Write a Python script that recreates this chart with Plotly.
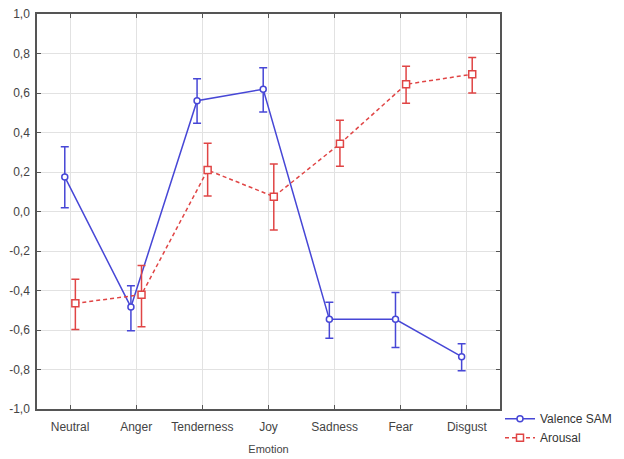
import plotly.graph_objects as go

emotions = ["Neutral", "Anger", "Tenderness", "Joy", "Sadness", "Fear", "Disgust"]

valence = [0.175, -0.484, 0.561, 0.619, -0.546, -0.546, -0.735]
valence_hi = [0.328, -0.376, 0.672, 0.728, -0.460, -0.410, -0.670]
valence_lo = [0.019, -0.604, 0.447, 0.504, -0.642, -0.688, -0.806]

arousal = [-0.465, -0.421, 0.210, 0.075, 0.343, 0.644, 0.695]
arousal_hi = [-0.343, -0.274, 0.345, 0.240, 0.462, 0.735, 0.780]
arousal_lo = [-0.598, -0.583, 0.078, -0.094, 0.229, 0.548, 0.600]

y_ticks = [-1.0, -0.8, -0.6, -0.4, -0.2, 0.0, 0.2, 0.4, 0.6, 0.8, 1.0]
y_tick_text = ["-1,0", "-0,8", "-0,6", "-0,4", "-0,2", "0,0", "0,2", "0,4", "0,6", "0,8", "1,0"]

BLUE = "#4747d6"
RED = "#e04545"
OFFSET = 0.08  # small horizontal dodge so the two series don't overlap

idx = list(range(len(emotions)))

fig = go.Figure()

fig.add_trace(go.Scatter(
    x=[i - OFFSET for i in idx], y=valence,
    name="Valence SAM", mode="lines+markers",
    line=dict(color=BLUE, width=1.5),
    marker=dict(symbol="circle", size=6, color="white", line=dict(color=BLUE, width=1.5)),
    error_y=dict(type="data", symmetric=False,
                 array=[h - v for h, v in zip(valence_hi, valence)],
                 arrayminus=[v - l for l, v in zip(valence_lo, valence)],
                 color=BLUE, thickness=1.5, width=4),
))

fig.add_trace(go.Scatter(
    x=[i + OFFSET for i in idx], y=arousal,
    name="Arousal", mode="lines+markers",
    line=dict(color=RED, width=1.5, dash="4px,3px"),
    marker=dict(symbol="square", size=7, color="white", line=dict(color=RED, width=1.5)),
    error_y=dict(type="data", symmetric=False,
                 array=[h - v for h, v in zip(arousal_hi, arousal)],
                 arrayminus=[v - l for l, v in zip(arousal_lo, arousal)],
                 color=RED, thickness=1.5, width=4),
))

FONT = "Liberation Sans, Arial, sans-serif"
axis_font = dict(family=FONT, size=12, color="#444")

fig.update_layout(
    width=624, height=459,
    margin=dict(l=37, r=124, t=14, b=50, autoexpand=False),
    paper_bgcolor="white", plot_bgcolor="white",
    font=axis_font,
    showlegend=True,
    legend=dict(x=1.0, y=0.012, xanchor="left", yanchor="top",
                font=dict(family=FONT, size=12, color="#333"),
                itemwidth=30, tracegroupgap=0, bgcolor="rgba(0,0,0,0)"),
    xaxis=dict(
        range=[-0.5, 6.5], tickmode="array", tickvals=idx, ticktext=emotions,
        showgrid=True, gridcolor="#e2e2e2", gridwidth=1,
        showline=True, linecolor="#555", linewidth=1.5, mirror="ticks",
        ticks="inside", ticklen=4, tickcolor="#555",
        zeroline=False, tickfont=axis_font, automargin=False,
        ticklabelstandoff=6,
        title=dict(text="Emotion", font=dict(family=FONT, size=11, color="#444"), standoff=12),
    ),
    yaxis=dict(
        range=[-1.0, 1.0], tickmode="array", tickvals=y_ticks, ticktext=y_tick_text,
        showgrid=True, gridcolor="#e2e2e2", gridwidth=1,
        showline=True, linecolor="#555", linewidth=1.5, mirror="ticks",
        ticks="inside", ticklen=4, tickcolor="#555",
        zeroline=False, tickfont=axis_font, automargin=False,
        ticklabelstandoff=3,
    ),
)

fig.write_html("out.html")
